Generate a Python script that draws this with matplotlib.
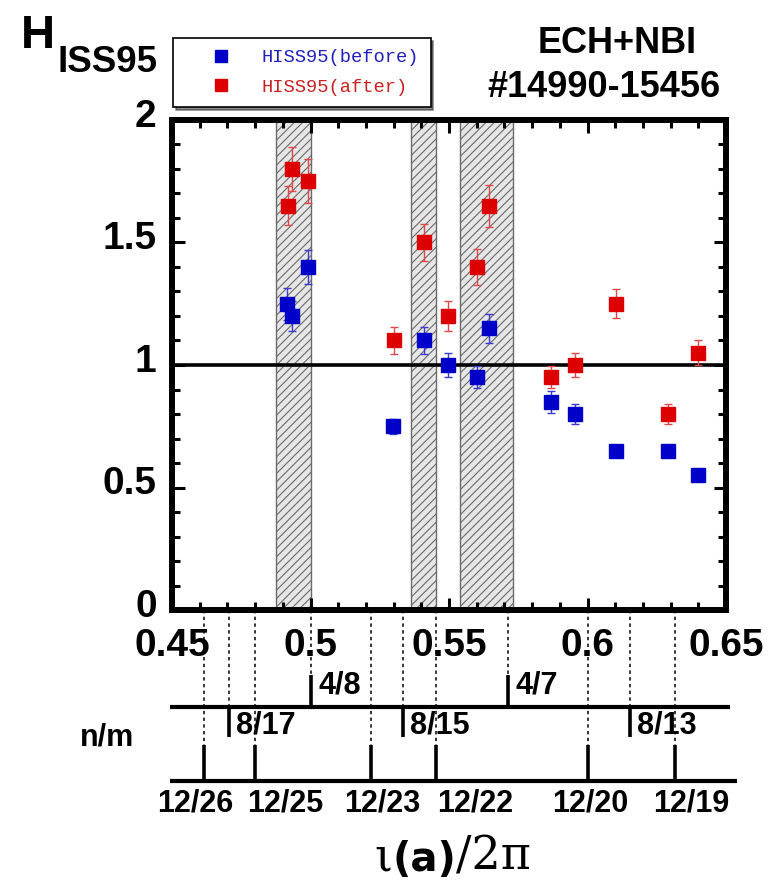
import matplotlib
matplotlib.use('Agg')
import matplotlib.pyplot as plt
import matplotlib.font_manager as fm
from matplotlib.transforms import ScaledTranslation
from matplotlib.ticker import MultipleLocator, FixedLocator, FixedFormatter

# ---------------- data ----------------
iota_before = [0.4916, 0.4933, 0.4991, 0.5298, 0.5408, 0.5498, 0.5602,
               0.5644, 0.5868, 0.5956, 0.6103, 0.6289, 0.6399]
h_before = [1.25, 1.20, 1.40, 0.75, 1.10, 1.00, 0.95,
            1.15, 0.85, 0.80, 0.65, 0.65, 0.55]
err_before = [0.065, 0.06, 0.07, 0.03, 0.055, 0.05, 0.045,
              0.06, 0.045, 0.04, 0.02, 0.02, 0.02]

iota_after = [0.4919, 0.4933, 0.4991, 0.5302, 0.5408, 0.5498, 0.5602,
              0.5644, 0.5868, 0.5956, 0.6103, 0.6289, 0.6399]
h_after = [1.65, 1.80, 1.75, 1.10, 1.50, 1.20, 1.40,
           1.65, 0.95, 1.00, 1.25, 0.80, 1.05]
err_after = [0.08, 0.09, 0.09, 0.055, 0.075, 0.06, 0.075,
             0.085, 0.045, 0.05, 0.06, 0.04, 0.05]

band_lo = [0.4877, 0.5362, 0.5539]
band_hi = [0.5000, 0.5452, 0.5730]

x_ticks = [0.45, 0.50, 0.55, 0.60, 0.65]
x_ticklabels = ['0.45', '0.5', '0.55', '0.6', '0.65']
y_ticks = [0, 0.5, 1, 1.5, 2]
y_ticklabels = ['0', '0.5', '1', '1.5', '2']

upper_n = [4, 8, 8, 4, 8]
upper_m = [8, 17, 15, 7, 13]
lower_n = [12, 12, 12, 12, 12, 12]
lower_m = [26, 25, 23, 22, 20, 19]

legend_labels = ['HISS95(before)', 'HISS95(after)']

# ---------------- fonts ----------------
names = {f.name for f in fm.fontManager.ttflist}
SANS = 'Liberation Sans' if 'Liberation Sans' in names else 'DejaVu Sans'
MONO = 'Liberation Mono' if 'Liberation Mono' in names else 'DejaVu Sans Mono'

plt.rcParams['font.family'] = [SANS, 'DejaVu Sans']
plt.rcParams['hatch.linewidth'] = 0.8

W, H = 784, 882
fig = plt.figure(figsize=(W / 100, H / 100), dpi=100)
fig.patch.set_facecolor('white')

AX_L, AX_R, AX_T, AX_B = 172, 726, 120, 610
ax = fig.add_axes([AX_L / W, 1 - AX_B / H, (AX_R - AX_L) / W, (AX_B - AX_T) / H])


def fy(py):
    """figure pixel row -> axes fraction (y)"""
    return (AX_B - py) / (AX_B - AX_T)


blue, red = '#0000c8', '#dc0000'
blue_e, red_e = '#3a3ad2', '#e04848'

# hatched bands
for lo, hi in zip(band_lo, band_hi):
    ax.axvspan(lo, hi, facecolor='#e6e6e6', edgecolor='#6a6a6a',
               hatch='////', lw=1.0, zorder=1)

ax.axhline(1.0, color='black', lw=2.6, zorder=3)

eb_b = ax.errorbar(iota_before, h_before, yerr=err_before, fmt='s', ms=10,
                   mfc=blue, mec=blue, ecolor=blue_e, elinewidth=1.0,
                   capsize=3, capthick=1.0, zorder=5)
eb_r = ax.errorbar(iota_after, h_after, yerr=err_after, fmt='s', ms=10,
                   mfc=red, mec=red, ecolor=red_e, elinewidth=1.0,
                   capsize=3, capthick=1.0, zorder=5)

ax.set_xlim(0.45, 0.65)
ax.set_ylim(0, 2)
ax.xaxis.set_major_locator(FixedLocator(x_ticks))
ax.xaxis.set_major_formatter(FixedFormatter(x_ticklabels))
ax.yaxis.set_major_locator(FixedLocator(y_ticks))
ax.yaxis.set_major_formatter(FixedFormatter(y_ticklabels))
ax.xaxis.set_minor_locator(MultipleLocator(0.01))
ax.yaxis.set_minor_locator(MultipleLocator(0.1))
ax.tick_params(which='both', direction='in', top=True, right=True,
               width=2.2, color='black')
ax.tick_params(which='major', length=9)
ax.tick_params(which='minor', length=5.5)
ax.tick_params(axis='x', which='major', pad=13)
ax.tick_params(axis='y', which='major', pad=11)
for lab in ax.get_xticklabels() + ax.get_yticklabels():
    lab.set_fontsize(28)
    lab.set_fontweight('bold')
    lab.set_family(SANS)
# y tick labels sit a little above their ticks in the reference
lift = ScaledTranslation(0, 0.07, fig.dpi_scale_trans)
for tk in ax.yaxis.get_major_ticks():
    tk.label1.set_transform(tk.label1.get_transform() + lift)
for sp in ax.spines.values():
    sp.set_linewidth(4.3)
    sp.set_color('black')

# ---------------- rational surface diagram ----------------
xt = ax.get_xaxis_transform()
UP_LINE, LOW_LINE = 707, 781
ax.plot([-0.004, 1.007], [fy(UP_LINE)] * 2, transform=ax.transAxes,
        color='black', lw=3.0, clip_on=False, solid_capstyle='butt')
ax.plot([-0.004, 1.02], [fy(LOW_LINE)] * 2, transform=ax.transAxes,
        color='black', lw=3.0, clip_on=False, solid_capstyle='butt')

dot_style = dict(color='black', lw=1.1, linestyle=(0, (2.2, 2.2)),
                 transform=xt, clip_on=False, zorder=6)
tick_style = dict(color='black', lw=2.6, transform=xt, clip_on=False,
                  solid_capstyle='butt')
lab_style = dict(fontsize=22, fontweight='bold', family=SANS,
                 annotation_clip=False)

for n, m in zip(upper_n, upper_m):
    x = n / m
    lab = f'{n}/{m}'
    if n == 4:
        ax.plot([x, x], [fy(UP_LINE), fy(675)], **tick_style)
        ax.plot([x, x], [0, fy(675)], **dot_style)
        ax.annotate(lab, xy=(x, fy(685)), xycoords=xt, xytext=(5.5, 0),
                    textcoords='offset points', ha='left', va='center',
                    **lab_style)
    else:
        ax.plot([x, x], [fy(UP_LINE), fy(737)], **tick_style)
        ax.plot([x, x], [0, fy(UP_LINE)], **dot_style)
        ax.annotate(lab, xy=(x, fy(726)), xycoords=xt, xytext=(5, 0),
                    textcoords='offset points', ha='left', va='center',
                    **lab_style)

lower_label_dx = [-9, 30, 12, 39, 3, 16]   # px shift of labels (layout)
for (n, m), dx in zip(zip(lower_n, lower_m), lower_label_dx):
    x = n / m
    ax.plot([x, x], [fy(LOW_LINE), fy(745)], **tick_style)
    ax.plot([x, x], [0, fy(745)], **dot_style)
    ax.annotate(f'{n}/{m}', xy=(x, fy(803)), xycoords=xt,
                xytext=(dx * 0.72, 0), textcoords='offset points',
                ha='center', va='center', **lab_style)

fig.text(107 / W, 1 - 738 / H, 'n/m', fontsize=22, fontweight='bold',
         family=SANS, ha='center', va='center')

# ---------------- axis titles ----------------
fig.text(21 / W, 1 - 48 / H, 'H', fontsize=34, fontweight='bold',
         family=SANS, ha='left', va='baseline')
fig.text(57 / W, 1 - 72 / H, 'ISS95', fontsize=26.5, fontweight='bold',
         family=SANS, ha='left', va='baseline')

t1 = fig.text(374 / W, 2 / H, 'ι', fontsize=33, family='DejaVu Serif',
              ha='left', va='bottom')
t2 = ax.annotate('(a)', xy=(1, 0), xycoords=t1, ha='left', va='bottom',
                 fontsize=29, fontweight='bold', family='DejaVu Sans',
                 annotation_clip=False)
t3 = ax.annotate('/2π', xy=(1, 0), xycoords=t2, ha='left', va='bottom',
                 fontsize=33, family='DejaVu Serif', annotation_clip=False)

fig.text(617 / W, 1 - 43.5 / H, 'ECH+NBI', fontsize=26, fontweight='bold',
         family=SANS, ha='center', va='center')
fig.text(604 / W, 1 - 87.5 / H, '#14990-15456', fontsize=26,
         fontweight='bold', family=SANS, ha='center', va='center')

# ---------------- legend ----------------
leg = fig.legend([eb_b[0], eb_r[0]], legend_labels, loc='upper left',
                 bbox_to_anchor=(173 / W, 1 - 38 / H),
                 bbox_transform=fig.transFigure,
                 prop={'family': MONO, 'size': 13.5}, frameon=True,
                 fancybox=False, shadow={'facecolor': '0.1', 'edgecolor': '0.1'},
                 edgecolor='black', framealpha=1, borderpad=0.6,
                 labelspacing=0.64, handlelength=3.94, handletextpad=0.2,
                 borderaxespad=0, numpoints=1, markerscale=0.9,
                 labelcolor=['#1f1fbf', '#cc2020'])
leg.get_frame().set_linewidth(1.2)

fig.savefig('out.png', dpi=100, facecolor='white')
